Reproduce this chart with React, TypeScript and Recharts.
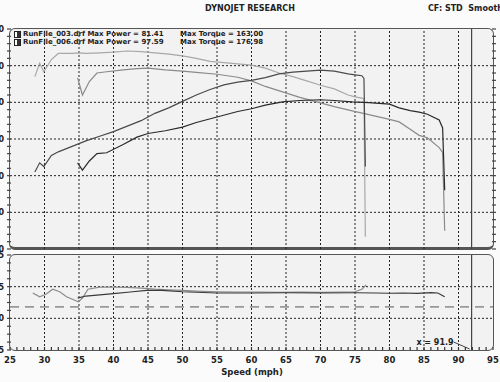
import { Line, LineChart, ReferenceLine, XAxis, YAxis } from "recharts";

const speed006 = [28.6, 29.3, 29.9, 31, 32, 33, 34, 35, 36, 38, 40, 42, 44, 46, 48, 50, 52, 54, 56, 58, 60, 62, 64, 66, 68, 70, 72, 74, 75, 76, 76.3, 76.5];
const power006 = [42, 47, 45, 51, 53, 54.5, 56, 57.5, 59, 61.5, 64, 67, 70, 74, 77, 80.5, 84, 87, 89.5, 91, 92, 93.5, 95.5, 96.5, 97, 97.6, 97, 95.5, 95, 94.5, 93, 45];
const torque006 = [156, 167, 160, 170, 175, 175, 175, 175.5, 175, 175.5, 176, 177, 176.5, 175.5, 174.5, 173, 171, 168.5, 167.5, 166.5, 165.5, 163, 159, 156, 152.5, 149, 146, 141, 139.5, 138.5, 138, 25];

const speed003 = [34.8, 35.5, 36.5, 37.6, 39, 41.4, 43.4, 45, 47.5, 50, 52, 55, 58, 60, 62, 64.5, 67, 70, 72, 74.6, 77, 80, 81.4, 83, 84.3, 85.5, 87.2, 87.7, 88];
const power003 = [47, 43, 48, 52, 52.5, 57, 61, 63, 64.5, 66.5, 69, 72, 75, 76.5, 78.5, 80.2, 81, 81.4, 81, 80.2, 79.8, 79, 77, 75.5, 74.7, 73.5, 70.4, 66, 32];
const torque003 = [155, 141, 152, 159, 160, 161.5, 162.5, 163, 161.5, 160.5, 159.5, 158, 155.5, 152.5, 148, 143.5, 139, 134.5, 131.5, 128, 125, 121, 119, 113, 108, 106, 98, 94, 30];

const afrSpeed006 = [28.3, 29.3, 30.2, 31.2, 32.2, 33.2, 34.9, 35.5, 36.3, 38, 40, 42, 44, 46, 48, 50, 52, 55, 58, 61, 64, 67, 70, 73, 75, 76, 76.6];
const afr006 = [12.0, 11.7, 11.9, 12.3, 12.1, 11.7, 11.3, 11.6, 12.3, 12.47, 12.47, 12.45, 12.38, 12.3, 12.25, 12.2, 12.15, 12.1, 12.08, 12.08, 12.06, 12.07, 12.05, 12.08, 12.1, 12.3, 12.63];
const afrSpeed003 = [34.8, 36, 38, 40, 42.4, 44.8, 47, 50, 55, 60, 65, 70, 75, 78, 80, 82, 84, 86, 87, 88];
const afr003 = [11.6, 11.76, 11.85, 11.95, 12.08, 12.2, 12.2, 12.1, 12.0, 12.0, 12.02, 12.0, 12.02, 12.0, 11.98, 12.0, 11.97, 12.03, 12.0, 11.7];

const afrTarget = 10.9;
const cursorSpeed = 91.9;

const speedTicks = Array.from({ length: 71 }, (_, i) => 25 + i);
const gridSpeeds = [30, 35, 40, 45, 50, 55, 60, 65, 70, 75, 80, 85, 90];
const powerTicks = Array.from({ length: 31 }, (_, i) => i * 4);
const powerGrid = [20, 40, 60, 80, 100];
const torqueTicks = Array.from({ length: 31 }, (_, i) => 15 + i * 6);
const afrTicks = Array.from({ length: 13 }, (_, i) => 7.5 + i * 0.625);
const afrGrid = [10, 12.5];

const runs = [
  { name: "RunFile_003.drf", maxPower: "81.41", maxTorque: "163.00" },
  { name: "RunFile_006.drf", maxPower: "97.59", maxTorque: "176.98" },
];

const rows006 = speed006.map((mph, i) => ({ mph, power: power006[i], torque: torque006[i] }));
const rows003 = speed003.map((mph, i) => ({ mph, power: power003[i], torque: torque003[i] }));
const afrRows006 = afrSpeed006.map((mph, i) => ({ mph, afr: afr006[i] }));
const afrRows003 = afrSpeed003.map((mph, i) => ({ mph, afr: afr003[i] }));

const FONT = '"DejaVu Sans", Verdana, sans-serif';
const GRID = { stroke: "#222", strokeDasharray: "2 2", strokeWidth: 1 };

const LeftTick = ({ x, y, payload, step }: any) => {
  const major = Math.abs(payload.value / step - Math.round(payload.value / step)) < 1e-6;
  return (
    <g>
      <line x1={x - 3} y1={y} x2={x + 1} y2={y} stroke="#444" strokeWidth={1.2} />
      {major ? (
        <text x={x - 6} y={y + 3} textAnchor="end" fontSize={8} fontWeight="bold" fontFamily={FONT} fill="#222">
          {payload.value}
        </text>
      ) : null}
    </g>
  );
};

const RightTick = ({ x, y }: any) => (
  <line x1={x - 1} y1={y} x2={x + 3} y2={y} stroke="#444" strokeWidth={1.2} />
);

const SpeedTick = ({ x, y, payload }: any) => {
  const major = payload.value % 5 === 0;
  return (
    <g>
      <line x1={x} y1={y - 3} x2={x} y2={y} stroke="#333" strokeWidth={1.2} />
      {major ? (
        <text x={x} y={y + 13} textAnchor="middle" fontSize={8.5} fontWeight="bold" fontFamily={FONT} fill="#222">
          {payload.value}
        </text>
      ) : null}
    </g>
  );
};

const CursorLabel = ({ viewBox }: any) => {
  const x = viewBox.x;
  const bottom = viewBox.y + viewBox.height;
  return (
    <g>
      <line x1={x - 18} y1={bottom - 8} x2={x - 2} y2={bottom - 1} stroke="#444" strokeWidth={1} />
      <text x={x - 18} y={bottom - 5} textAnchor="end" fontSize={8} fontWeight="bold" fontFamily={FONT} fill="#222">
        x = {cursorSpeed}
      </text>
    </g>
  );
};

export default function App() {
  return (
    <div style={{ position: "absolute", left: 0, top: 0, width: 500, height: 382, overflow: "hidden", background: "#fbfbfb", fontFamily: FONT }}>
      <div style={{ position: "absolute", left: 0, width: 500, top: 4, textAlign: "center", fontSize: 8, fontWeight: "bold", color: "#222" }}>
        DYNOJET RESEARCH
      </div>
      <div style={{ position: "absolute", left: 428, top: 4, fontSize: 8, fontWeight: "bold", color: "#222", whiteSpace: "pre" }}>
        CF: STD  Smoothing = 5
      </div>

      <div style={{ position: "absolute", left: 9, top: 28, width: 485, height: 222, boxSizing: "border-box", border: "1.5px solid #555", borderBottomWidth: 3, borderRadius: 6, background: "#f2f2f2" }} />
      <div style={{ position: "absolute", left: 9, top: 254, width: 485, height: 97, boxSizing: "border-box", border: "1.5px solid #555", borderRadius: 6, background: "#f2f2f2" }} />

      <div style={{ position: "absolute", left: 0, top: 0 }}>
        <LineChart width={500} height={252} margin={{ top: 29, right: 0, bottom: 3, left: 0 }}>
          <XAxis type="number" dataKey="mph" domain={[25, 95]} ticks={gridSpeeds} hide allowDataOverflow />
          <YAxis yAxisId="p" domain={[0, 120]} ticks={powerTicks} interval={0} width={10} axisLine={false} tickLine={false} tickSize={0} tickMargin={0} tick={<LeftTick step={20} />} />
          <YAxis yAxisId="t" orientation="right" domain={[15, 195]} ticks={torqueTicks} interval={0} width={7} axisLine={false} tickLine={false} tickSize={0} tickMargin={0} tick={<RightTick />} />
          {powerGrid.map((v) => (
            <ReferenceLine key={"h" + v} yAxisId="p" y={v} {...GRID} />
          ))}
          {gridSpeeds.map((v) => (
            <ReferenceLine key={"v" + v} yAxisId="p" x={v} {...GRID} />
          ))}
          <ReferenceLine yAxisId="p" x={cursorSpeed} stroke="#444" strokeWidth={1.2} />
          <Line data={rows006} yAxisId="t" dataKey="torque" type="linear" stroke="#a8a8a8" strokeWidth={1.2} dot={false} isAnimationActive={false} />
          <Line data={rows003} yAxisId="t" dataKey="torque" type="linear" stroke="#8a8a8a" strokeWidth={1.2} dot={false} isAnimationActive={false} />
          <Line data={rows006} yAxisId="p" dataKey="power" type="linear" stroke="#4a4a4a" strokeWidth={1.2} dot={false} isAnimationActive={false} />
          <Line data={rows003} yAxisId="p" dataKey="power" type="linear" stroke="#2a2a2a" strokeWidth={1.2} dot={false} isAnimationActive={false} />
        </LineChart>
      </div>

      <div style={{ position: "absolute", left: 14, top: 31, fontSize: 7, fontWeight: "bold", color: "#222", lineHeight: "7.5px" }}>
        {runs.map((r) => (
          <div key={r.name} style={{ display: "flex", alignItems: "center", height: 7.5, whiteSpace: "pre" }}>
            <span style={{ display: "inline-block", width: 5, height: 5, border: "1px solid #222", background: "linear-gradient(90deg, #fff 45%, #333 45%)", marginRight: 2 }} />
            <span style={{ width: 157, display: "inline-block", flexShrink: 0 }}>{`${r.name} Max Power = ${r.maxPower}`}</span>
            <span>{`Max Torque = ${r.maxTorque}`}</span>
          </div>
        ))}
      </div>

      <div style={{ position: "absolute", left: 0, top: 250 }}>
        <LineChart width={500} height={132} margin={{ top: 5, right: 7, bottom: 0, left: 0 }}>
          <XAxis type="number" dataKey="mph" domain={[25, 95]} ticks={speedTicks} interval={0} height={32} axisLine={false} tickLine={false} tickSize={0} tickMargin={0} tick={<SpeedTick />} allowDataOverflow />
          <YAxis domain={[7.5, 15]} ticks={afrTicks} interval={0} width={10} axisLine={false} tickLine={false} tickSize={0} tickMargin={0} tick={<LeftTick step={2.5} />} />
          {afrGrid.map((v) => (
            <ReferenceLine key={"h" + v} y={v} {...GRID} />
          ))}
          {gridSpeeds.map((v) => (
            <ReferenceLine key={"v" + v} x={v} {...GRID} />
          ))}
          <ReferenceLine y={afrTarget} stroke="#555" strokeWidth={1} strokeDasharray="9 6" />
          <ReferenceLine x={cursorSpeed} stroke="#444" strokeWidth={1.2} label={<CursorLabel />} />
          <Line data={afrRows006} dataKey="afr" type="linear" stroke="#8c8c8c" strokeWidth={1.2} dot={false} isAnimationActive={false} />
          <Line data={afrRows003} dataKey="afr" type="linear" stroke="#3a3a3a" strokeWidth={1.2} dot={false} isAnimationActive={false} />
        </LineChart>
      </div>

      <div style={{ position: "absolute", left: 0, width: 500, top: 367, textAlign: "center", fontSize: 8.5, fontWeight: "bold", color: "#222", paddingLeft: 4, boxSizing: "border-box" }}>
        Speed (mph)
      </div>
    </div>
  );
}
